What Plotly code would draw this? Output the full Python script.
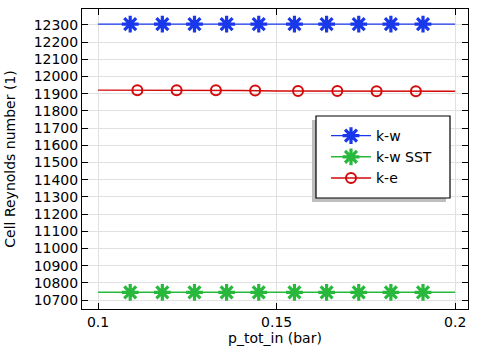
import plotly.graph_objects as go

# Data
x_line = [0.100, 0.110, 0.120, 0.130, 0.140, 0.150, 0.160, 0.170, 0.180, 0.190, 0.200]
kw_line = [12305, 12305, 12305, 12305, 12305, 12305, 12305, 12305, 12305, 12305, 12305]
sst_line = [10745, 10745, 10745, 10745, 10745, 10745, 10745, 10745, 10745, 10745, 10745]
ke_line = [11921, 11921, 11920, 11920, 11919, 11916, 11916, 11916, 11915, 11915, 11915]

x_mark_kw = [0.109, 0.118, 0.127, 0.136, 0.145, 0.155, 0.164, 0.173, 0.182, 0.191]
kw_mark = [12305] * 10
sst_mark = [10745] * 10
x_mark_ke = [0.111, 0.122, 0.133, 0.144, 0.156, 0.167, 0.178, 0.189]
ke_mark = [11921, 11920, 11920, 11919, 11916, 11916, 11915, 11915]

names = ["k-w", "k-w SST", "k-e"]
colors = ["rgb(25,55,235)", "rgb(40,185,60)", "rgb(210,10,10)"]

FONT = "DejaVu Sans"
FS = 14
fig = go.Figure()

series = [
    (x_line, kw_line, x_mark_kw, kw_mark, "asterisk-open", 14),
    (x_line, sst_line, x_mark_kw, sst_mark, "asterisk-open", 14),
    (x_line, ke_line, x_mark_ke, ke_mark, "circle-open", 10),
]
for (xl, yl, xm, ym, sym, sz), name, c in zip(series, names, colors):
    mk = dict(symbol=sym, size=sz, color=c, line=dict(color=c, width=3.2 if sym.startswith("asterisk") else 2))
    fig.add_trace(go.Scatter(x=xl, y=yl, mode="lines", line=dict(color=c, width=1.4),
                             showlegend=False, hoverinfo="skip"))
    fig.add_trace(go.Scatter(x=xm, y=ym, mode="markers", marker=mk, showlegend=False))
    fig.add_trace(go.Scatter(x=[None], y=[None], mode="lines+markers", name=name,
                             line=dict(color=c, width=1.4), marker=mk))

axis_common = dict(showline=True, linecolor="black", linewidth=1, mirror="allticks",
                   ticks="inside", ticklen=6, tickcolor="black", showgrid=True,
                   gridcolor="rgb(225,225,225)", gridwidth=1, zeroline=False, automargin=False,
                   tickfont=dict(family=FONT, size=FS, color="black"))

L, R, T, B = 82, 468, 9, 309
W, H = 480, 351
pw, ph = R - L, B - T

def px(x):
    return (x - L) / pw

def py(y):
    return (B - y) / ph

fig.update_layout(
    width=W, height=H,
    margin=dict(l=L, r=W - R, t=T, b=H - B),
    paper_bgcolor="white", plot_bgcolor="white",
    font=dict(family=FONT, size=FS, color="black"),
    xaxis=dict(range=[0.0955, 0.2036], tickvals=[0.1, 0.15, 0.2], ticktext=["0.1", "0.15", "0.2"],
               title=dict(text="p_tot_in (bar)", standoff=4, font=dict(family=FONT, size=FS)),
               **axis_common),
    yaxis=dict(range=[10648, 12393], dtick=100, tick0=10700, tickformat="d",
               title=dict(text="Cell Reynolds number (1)", standoff=14, font=dict(family=FONT, size=FS)),
               **axis_common),
    legend=dict(x=px(326), y=py(120), xanchor="left", yanchor="top", bgcolor="rgba(0,0,0,0)",
                borderwidth=0, font=dict(family=FONT, size=FS), tracegroupgap=0, itemwidth=40),
    shapes=[
        dict(type="rect", xref="paper", yref="paper", x0=px(312), x1=px(446), y0=py(202), y1=py(120),
             fillcolor="rgb(190,190,190)", line=dict(width=0), layer="above"),
        dict(type="rect", xref="paper", yref="paper", x0=px(316), x1=px(450), y0=py(198), y1=py(116),
             fillcolor="white", line=dict(width=1.2, color="black"), layer="above"),
    ],
)
fig.write_html("out.html", config={"displayModeBar": False})

# remove default body margin so the figure sits at the window's top-left corner
with open("out.html", encoding="utf-8") as f:
    html = f.read()
html = html.replace("<head>", "<head><style>html,body{margin:0;padding:0;overflow:hidden;}</style>", 1)
with open("out.html", "w", encoding="utf-8") as f:
    f.write(html)
